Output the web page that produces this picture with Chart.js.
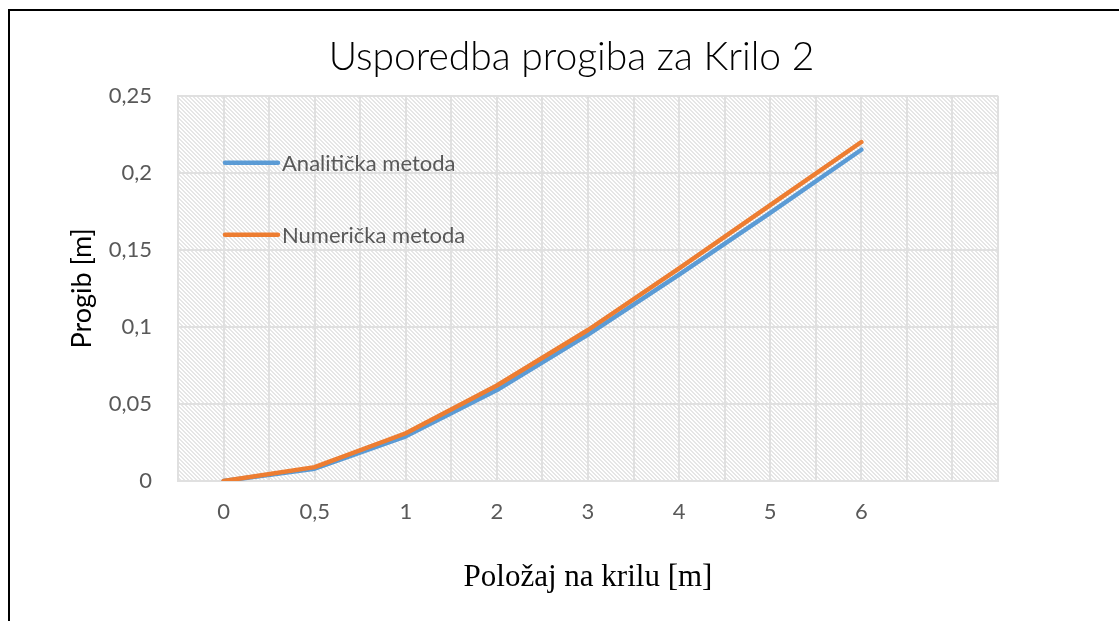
<!DOCTYPE html>
<html>
<head>
<meta charset="utf-8">
<script src="https://cdn.jsdelivr.net/npm/chart.js@4"></script>
<style>
  html, body { margin: 0; padding: 0; background: #fff; overflow: hidden; }
  #wrap { position: relative; width: 1119px; height: 621px; }
  #frame {
    position: absolute; left: 8px; top: 9px; width: 1200px; height: 700px;
    border: 2px solid #000; pointer-events: none;
  }
</style>
</head>
<body>
<div id="wrap">
  <canvas id="chart" width="1119" height="621"></canvas>
  <div id="frame"></div>
</div>
<script>
const positions = ["0", "0,5", "1", "2", "3", "4", "5", "6", ""];
const analyticValues = [0, 0.008, 0.029, 0.059, 0.095, 0.134, 0.174, 0.215];
const numericValues = [0, 0.009, 0.031, 0.062, 0.098, 0.138, 0.179, 0.220];
const yTickLabels = ["0", "0,05", "0,1", "0,15", "0,2", "0,25"];

const GRID = "#e0e0e0";
const TEXT = "#595959";

Chart.defaults.font.family = "Lato, 'Noto Sans', sans-serif";
Chart.defaults.color = TEXT;

// diagonal hatch used as the plot area fill
function makeHatch(ctx) {
    const c = document.createElement("canvas");
    c.width = 4;
    c.height = 4;
    const p = c.getContext("2d");
    p.fillStyle = "#fff";
    p.fillRect(0, 0, 4, 4);
    p.fillStyle = "#e6e6e6";
    for (let y = 0; y < 4; y++) {
        for (let x = 0; x < 4; x++) {
            const d = ((x - y) % 4 + 4) % 4;
            if (d < 2) p.fillRect(x, y, 1, 1);
        }
    }
    return ctx.createPattern(c, "repeat");
}

const plotBackground = {
    id: "plotBackground",
    beforeDraw(chart) {
        const { ctx, chartArea: a, scales } = chart;
        ctx.save();
        ctx.fillStyle = makeHatch(ctx);
        ctx.fillRect(a.left, a.top, a.right - a.left, a.bottom - a.top);
        // extra vertical lines through each category centre
        ctx.strokeStyle = GRID;
        ctx.lineWidth = 2;
        positions.forEach((p, i) => {
            const x = Math.round(scales.x.getPixelForTick(i));
            ctx.beginPath();
            ctx.moveTo(x, a.top);
            ctx.lineTo(x, a.bottom);
            ctx.stroke();
        });
        ctx.restore();
    }
};

const insideLegend = {
    id: "insideLegend",
    afterDatasetsDraw(chart) {
        const { ctx, chartArea: a } = chart;
        const rows = [a.top + 67, a.top + 139];
        ctx.save();
        ctx.font = "22px Lato, 'Noto Sans', sans-serif";
        ctx.textBaseline = "middle";
        chart.data.datasets.forEach((ds, i) => {
            const y = rows[i];
            ctx.strokeStyle = ds.borderColor;
            ctx.lineWidth = 4.5;
            ctx.lineCap = "round";
            ctx.beginPath();
            ctx.moveTo(a.left + 47, y);
            ctx.lineTo(a.left + 100, y);
            ctx.stroke();
            ctx.fillStyle = TEXT;
            ctx.fillText(ds.label, a.left + 104, y + 1);
        });
        ctx.restore();
    }
};

new Chart(document.getElementById("chart"), {
    type: "line",
    data: {
        labels: positions,
        datasets: [{
            label: "Analitička metoda",
            data: analyticValues,
            borderColor: "#5b9bd5",
            backgroundColor: "#5b9bd5",
            borderWidth: 4.5,
            pointRadius: 0,
            borderCapStyle: "round",
            borderJoinStyle: "round",
            order: 2
        }, {
            label: "Numerička metoda",
            data: numericValues,
            borderColor: "#ed7d31",
            backgroundColor: "#ed7d31",
            borderWidth: 4.5,
            pointRadius: 0,
            borderCapStyle: "round",
            borderJoinStyle: "round",
            order: 1
        }]
    },
    options: {
        responsive: false,
        animation: false,
        layout: { padding: { left: 24, right: 0, top: 0, bottom: 0 } },
        plugins: {
            legend: { display: false },
            tooltip: { enabled: false },
            title: {
                display: true,
                text: "Usporedba progiba za Krilo 2",
                color: "#000",
                font: { size: 39, weight: "300" },
                padding: { top: 34, bottom: 15 }
            }
        },
        scales: {
            x: {
                offset: true,
                grid: { color: GRID, lineWidth: 2, offset: true, drawTicks: false },
                border: { color: GRID, width: 2 },
                ticks: { color: TEXT, font: { size: 22 }, padding: 18, maxRotation: 0 },
                title: {
                    display: true,
                    text: "Položaj na krilu [m]",
                    color: "#000",
                    font: { family: "'Liberation Serif', 'DejaVu Serif', serif", size: 31 },
                    padding: { bottom: 25 }
                },
                afterFit(scale) { scale.height = 140; }
            },
            y: {
                min: 0,
                max: 0.25,
                grid: { color: GRID, lineWidth: 2, drawTicks: false },
                border: { color: GRID, width: 2 },
                ticks: {
                    stepSize: 0.05,
                    color: TEXT,
                    font: { size: 22 },
                    padding: 26,
                    callback: (v, i) => yTickLabels[i]
                },
                title: {
                    display: true,
                    text: "Progib [m]",
                    color: "#000",
                    font: { size: 27 },
                    padding: { top: 42 }
                },
                afterFit(scale) { scale.width = 154; }
            },
            spacer: {
                position: "right",
                display: true,
                grid: { display: false },
                border: { display: false },
                ticks: { display: false },
                afterFit(scale) { scale.width = 121; }
            }
        }
    },
    plugins: [plotBackground, insideLegend]
});
</script>
</body>
</html>
